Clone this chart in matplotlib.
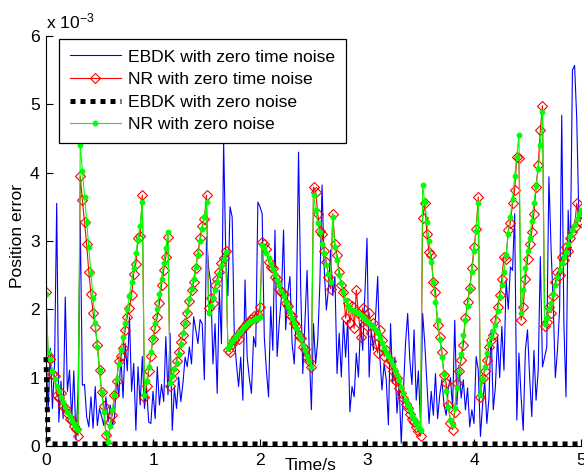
import numpy as np
import matplotlib
matplotlib.use('Agg')
import matplotlib.pyplot as plt

plt.rcParams['font.family'] = ['Liberation Sans', 'DejaVu Sans']
plt.rcParams['mathtext.default'] = 'regular'

SCALE = 1e-3  # values below are in units of 1e-3
time_s = np.linspace(0.0, 5.0, 251)  # sample times, 0.02 s step

# EBDK with zero time noise (blue)
ebdk_time_noise = [
    1.40, 0.50, 1.43, 0.55, 1.20, 3.55, 0.35, 0.95, 0.40, 2.18,
    0.80, 1.11, 0.38, 1.10, 0.09, 0.80, 3.30, 0.89, 0.90, 0.43,
    0.28, 0.72, 0.26, 0.87, 0.30, 0.55, 0.43, 0.30, 0.72, 0.35,
    0.60, 0.30, 0.43, 1.00, 0.72, 1.30, 0.70, 1.50, 1.10, 1.89,
    0.80, 1.21, 0.23, 1.16, 0.60, 1.31, 0.55, 0.85, 0.35, 0.33,
    0.80, 0.40, 1.16, 0.60, 0.90, 0.65, 1.60, 0.75, 1.65, 0.23,
    0.85, 0.55, 1.01, 0.65, 0.92, 1.30, 1.16, 1.45, 1.20, 1.89,
    1.70, 1.50, 1.85, 1.79, 0.97, 3.06, 2.60, 2.38, 1.20, 1.79,
    0.77, 2.28, 1.50, 4.47, 2.80, 2.20, 3.50, 3.35, 1.60, 1.20,
    0.87, 1.30, 0.67, 2.43, 1.30, 1.00, 0.77, 1.60, 1.45, 3.57,
    3.50, 3.40, 1.60, 1.10, 0.72, 2.04, 1.40, 3.16, 1.31, 1.80,
    2.18, 3.16, 1.70, 2.24, 2.48, 1.50, 1.20, 2.00, 4.30, 2.33,
    1.06, 1.80, 2.57, 1.40, 0.53, 1.79, 1.20, 1.55, 2.40, 3.82,
    2.60, 1.99, 2.30, 2.87, 2.20, 2.48, 1.06, 1.65, 1.01, 1.84,
    1.30, 1.84, 0.50, 0.87, 0.72, 1.36, 1.01, 1.79, 1.40, 2.20,
    3.04, 1.01, 1.70, 1.40, 1.89, 2.48, 1.31, 0.82, 1.20, 0.97,
    0.31, 1.79, 0.92, 1.30, 0.48, 0.90, 0.04, 0.80, 1.50, 1.94,
    1.26, 0.90, 1.70, 0.67, 1.10, 0.33, 1.94, 1.50, 0.90, 0.33,
    0.80, 0.45, 1.06, 0.40, 0.75, 0.97, 0.60, 0.45, 0.85, 1.00,
    0.55, 1.84, 0.60, 1.18, 0.70, 0.97, 0.53, 0.85, 0.28, 0.53,
    0.33, 1.31, 1.11, 0.14, 0.60, 0.95, 0.33, 0.70, 1.70, 0.53,
    0.87, 1.60, 1.00, 1.75, 1.11, 2.43, 2.00, 2.62, 2.57, 3.40,
    0.38, 1.36, 0.72, 0.23, 1.40, 1.70, 1.01, 0.43, 1.40, 0.67,
    1.10, 2.77, 1.16, 1.30, 1.45, 3.94, 2.90, 2.09, 1.00, 1.40,
    2.00, 4.84, 1.80, 0.72, 3.45, 2.77, 5.50, 5.57, 4.80, 3.35,
    3.30,
]

# NR with zero time noise (red, diamonds)
nr_time_noise = [
    2.25, 1.33, 1.28, 1.06, 1.03, 0.75, 0.70, 0.78, 0.58, 0.55,
    0.48, 0.40, 0.38, 0.30, 0.25, 0.15, 3.95, 3.60, 3.28, 2.95,
    2.55, 2.23, 1.95, 1.74, 1.48, 1.11, 0.79, 0.58, 0.16, 0.01,
    0.35, 0.45, 0.75, 0.95, 1.25, 1.31, 1.43, 1.70, 1.89, 2.02,
    2.21, 2.52, 2.67, 3.05, 3.08, 3.67, 0.72, 0.88, 1.10, 1.32,
    1.57, 1.72, 1.89, 2.09, 2.35, 2.57, 2.77, 3.06, 0.88, 1.00,
    1.10, 1.25, 1.38, 1.52, 1.63, 1.80, 1.95, 2.12, 2.28, 2.40,
    2.60, 2.82, 3.05, 3.22, 3.32, 3.67, 2.02, 2.16, 2.10, 2.35,
    2.45, 2.55, 2.68, 2.75, 2.85, 1.40, 1.38, 1.50, 1.55, 1.60,
    1.57, 1.68, 1.72, 1.75, 1.80, 1.82, 1.86, 1.90, 1.88, 1.92,
    2.04, 2.98, 2.95, 2.88, 2.70, 2.62, 2.60, 2.48, 2.45, 2.30,
    2.25, 2.22, 2.10, 2.05, 1.92, 1.90, 1.80, 1.75, 1.62, 1.58,
    1.45, 1.42, 1.30, 1.25, 1.15, 3.79, 3.72, 3.40, 3.15, 3.10,
    2.85, 2.70, 2.48, 2.30, 3.40, 2.95, 2.79, 2.55, 2.35, 2.26,
    1.87, 2.09, 1.80, 2.05, 1.72, 2.28, 1.95, 1.60, 2.02, 1.85,
    1.75, 1.95, 1.65, 1.80, 1.50, 1.36, 1.70, 1.55, 1.31, 1.40,
    1.21, 1.25, 1.10, 0.97, 1.00, 0.85, 0.77, 0.70, 0.62, 0.55,
    0.47, 0.40, 0.35, 0.28, 0.22, 0.15, 3.33, 3.55, 3.10, 2.84,
    2.80, 2.40, 2.26, 1.77, 1.60, 1.38, 1.04, 0.92, 0.60, 0.34,
    0.24, 0.50, 0.92, 1.10, 1.26, 1.48, 1.87, 2.11, 2.31, 2.60,
    2.91, 3.18, 3.64, 0.72, 1.00, 1.10, 1.26, 1.45, 1.55, 1.62,
    1.85, 2.04, 2.21, 2.45, 2.77, 2.74, 3.16, 3.26, 3.55, 3.74,
    4.23, 4.22, 1.84, 2.04, 2.45, 2.74, 2.96, 3.13, 3.40, 3.79,
    4.11, 4.62, 4.98, 1.75, 1.82, 2.04, 1.95, 2.20, 2.40, 2.55,
    2.50, 2.77, 2.72, 2.91, 2.85, 3.05, 3.13, 3.20, 3.55, 3.30,
    3.28,
]

# NR with zero noise (green, dots)
nr_zero_noise = [
    2.22, 1.38, 1.28, 1.10, 0.98, 0.88, 0.80, 0.72, 0.64, 0.57,
    0.50, 0.44, 0.37, 0.32, 0.27, 0.23, 4.40, 4.03, 3.65, 3.28,
    2.91, 2.53, 2.16, 1.80, 1.45, 1.11, 0.79, 0.50, 0.19, 0.06,
    0.30, 0.52, 0.75, 0.98, 1.20, 1.40, 1.60, 1.80, 2.00, 2.20,
    2.40, 2.60, 2.82, 3.02, 3.22, 3.57, 0.75, 0.95, 1.15, 1.38,
    1.58, 1.80, 2.00, 2.22, 2.45, 2.68, 2.90, 3.13, 0.92, 1.02,
    1.12, 1.22, 1.35, 1.50, 1.65, 1.80, 1.98, 2.15, 2.30, 2.45,
    2.62, 2.80, 3.00, 3.18, 3.35, 3.57, 1.94, 2.05, 2.16, 2.28,
    2.40, 2.52, 2.63, 2.74, 2.84, 1.43, 1.48, 1.53, 1.57, 1.61,
    1.65, 1.69, 1.72, 1.75, 1.78, 1.81, 1.83, 1.85, 1.87, 1.88,
    1.89, 2.94, 2.90, 2.83, 2.75, 2.67, 2.59, 2.51, 2.43, 2.35,
    2.27, 2.19, 2.11, 2.04, 1.96, 1.88, 1.80, 1.72, 1.64, 1.56,
    1.48, 1.40, 1.32, 1.24, 1.16, 3.67, 3.45, 3.26, 3.13, 2.96,
    2.82, 2.65, 2.52, 2.40, 3.35, 2.91, 2.72, 2.50, 2.38, 2.26,
    2.14, 2.05, 2.01, 1.99, 1.97, 1.96, 1.94, 1.92, 1.89, 1.86,
    1.83, 1.80, 1.77, 1.74, 1.70, 1.65, 1.58, 1.51, 1.44, 1.38,
    1.31, 1.26, 1.19, 1.11, 1.04, 0.96, 0.87, 0.77, 0.68, 0.60,
    0.52, 0.45, 0.39, 0.33, 0.28, 0.24, 3.82, 3.57, 3.28, 3.00,
    2.69, 2.40, 2.11, 1.84, 1.57, 1.30, 1.05, 0.80, 0.57, 0.38,
    0.31, 0.55, 0.85, 1.10, 1.35, 1.62, 1.85, 2.05, 2.30, 2.55,
    2.85, 3.15, 3.55, 0.74, 0.98, 1.15, 1.36, 1.50, 1.60, 1.68,
    1.77, 1.98, 2.18, 2.35, 2.55, 2.80, 3.10, 3.35, 3.62, 3.95,
    4.23, 4.55, 1.95, 2.28, 2.60, 2.85, 3.05, 3.30, 3.55, 3.80,
    4.05, 4.40, 4.89, 1.79, 1.88, 2.00, 2.10, 2.22, 2.35, 2.47,
    2.57, 2.68, 2.77, 2.84, 2.95, 3.08, 3.16, 3.24, 3.32, 3.40,
    3.45,
]

# EBDK with zero noise (black dotted)
ebdk_zero_t = [0.0, 0.02, 0.04, 5.0]
ebdk_zero = [1.30, 0.06, 0.03, 0.03]

labels = ['EBDK with zero time noise', 'NR with zero time noise',
          'EBDK with zero noise', 'NR with zero noise']
x_ticks = [0, 1, 2, 3, 4, 5]
y_ticks = [0, 1, 2, 3, 4, 5, 6]

FS = 12.6
W, H = 584, 474
fig = plt.figure(figsize=(W / 100, H / 100), dpi=100)
ax = fig.add_axes([46 / W, 28 / H, 535 / W, 410 / H])

ax.plot(time_s, np.array(ebdk_time_noise) * SCALE, color='#0000ff', lw=0.8,
        label=labels[0])
ax.plot(time_s, np.array(nr_time_noise) * SCALE, color='#ff0000', lw=0.8,
        marker='D', ms=5.6, mfc='none', mec='#ff0000', mew=0.8,
        label=labels[1])
ax.plot(ebdk_zero_t, np.array(ebdk_zero) * SCALE, color='black', lw=3.6,
        linestyle=(0, (1, 1)), dash_capstyle='butt', clip_on=False,
        label=labels[2])
ax.plot(time_s, np.array(nr_zero_noise) * SCALE, color='#00ff00', lw=0.8,
        marker='o', ms=3.2, mfc='#00ff00', mec='#00ff00', label=labels[3])

ax.set_xlim(0, 5)
ax.set_ylim(0, 6 * SCALE)
ax.set_xticks(x_ticks)
ax.set_xticklabels([str(v) for v in x_ticks])
ax.set_yticks([v * SCALE for v in y_ticks])
ax.set_yticklabels([str(v) for v in y_ticks])

for side in ('top', 'right'):
    ax.spines[side].set_visible(False)
for side in ('left', 'bottom'):
    ax.spines[side].set_linewidth(0.8)
ax.tick_params(direction='in', length=5, width=0.8, labelsize=FS,
               top=False, right=False)
ax.tick_params(axis='x', pad=5.0)
ax.tick_params(axis='y', pad=4.5)

leg = ax.legend(loc='upper left', bbox_to_anchor=(0.0243, 0.993),
                fontsize=FS, frameon=True, fancybox=False,
                edgecolor='black', framealpha=1, borderpad=0.6,
                labelspacing=0.42, handlelength=2.95, handletextpad=0.42,
                borderaxespad=0)
leg.get_frame().set_linewidth(0.9)

fig.text(311 / W, 4 / H, 'Time/s', ha='center', va='baseline', fontsize=FS)
fig.text(17.5 / W, 1 - 236 / H, 'Position error', rotation=90,
         ha='center', va='center', fontsize=FS)
ax.text(0.0, 1.0195, r'x 10$^{-3}$', transform=ax.transAxes,
        ha='left', va='baseline', fontsize=FS)

fig.savefig('out.png', dpi=100)
